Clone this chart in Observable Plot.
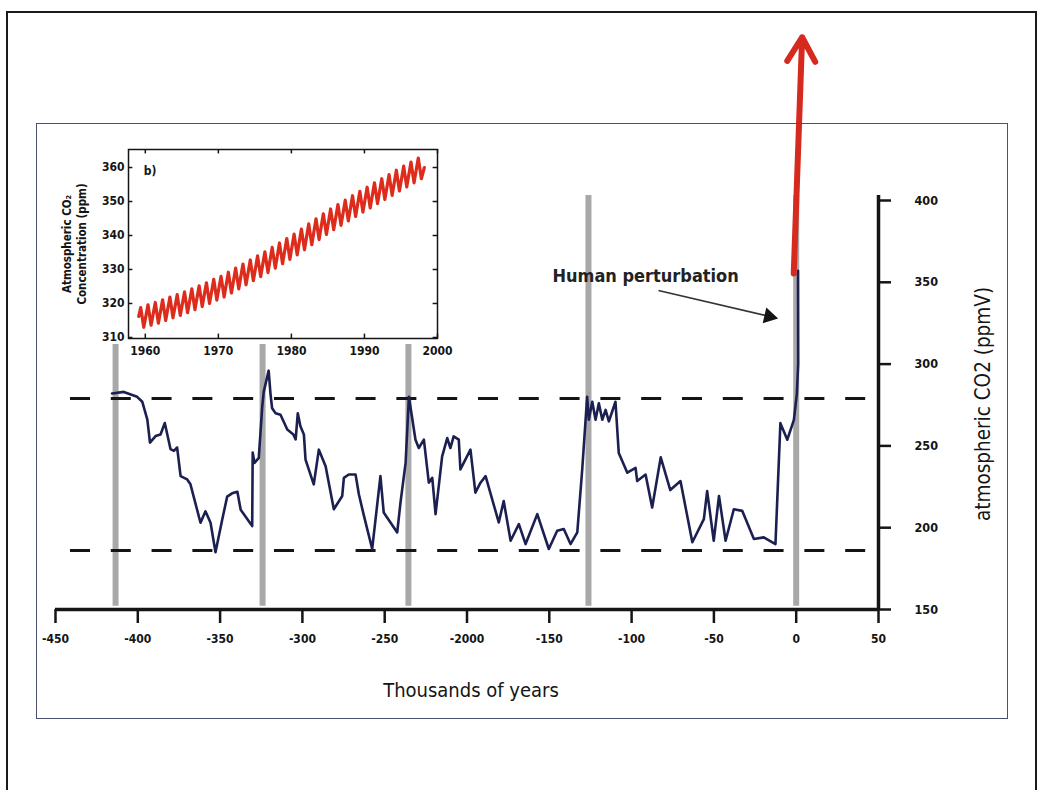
<!DOCTYPE html>
<html><head><meta charset="utf-8">
<script src="https://cdn.jsdelivr.net/npm/d3@7"></script>
<script src="https://cdn.jsdelivr.net/npm/@observablehq/plot@0.6"></script>
<style>
body{margin:0;background:#fff;width:1041px;height:790px;overflow:hidden;position:relative}
#main{position:absolute;left:0;top:0}
#inset{position:absolute;left:55px;top:140px}
.outer{position:absolute;left:6px;top:11px;width:1031px;height:800px;border:2px solid #1a1a1a;box-sizing:border-box}
.frame{position:absolute;left:36px;top:123px;width:972px;height:596px;border:1.5px solid #4a5070;box-sizing:border-box}
</style></head><body>
<div id="main"></div><div id="inset"></div><div class="outer"></div><div class="frame"></div>
<script>
// ---------- Vostok ice-core CO2 (thousands of years, ppmV) ----------
const vostokAge = [-415.6,-408.5,-400.4,-397.3,-394.2,-392.6,-389.2,-386.2,-383.6,-380.1,-378.1,-376.1,-374.0,-370.0,-368.0,-361.9,-358.9,-355.8,-352.8,-348.7,-345.7,-342.7,-339.5,-337.5,-330.5,-330.2,-329.1,-326.5,-324.4,-323.5,-320.5,-319.4,-318.4,-316.3,-313.3,-309.2,-305.5,-304.1,-302.8,-301.2,-299.1,-298.1,-293.1,-290.0,-285.9,-280.9,-275.8,-274.8,-271.8,-267.7,-265.7,-262.6,-257.6,-252.6,-250.6,-242.4,-240.4,-237.3,-235.3,-231.3,-229.3,-226.2,-223.2,-221.1,-219.1,-215.1,-212.0,-210.1,-208.1,-205.0,-204.0,-197.9,-194.9,-191.8,-188.7,-180.7,-177.7,-173.5,-168.5,-164.4,-157.3,-150.3,-145.2,-141.2,-137.1,-133.0,-130.0,-127.0,-126.0,-123.9,-121.9,-119.9,-117.8,-115.8,-113.8,-109.8,-107.8,-102.6,-97.6,-96.6,-91.5,-87.5,-82.3,-76.5,-70.3,-63.1,-56.1,-54.1,-50.1,-46.9,-42.9,-37.9,-32.8,-25.7,-19.7,-12.6,-9.6,-5.4,-1.4,0.4,1.2,1.1];
const vostokCO2 = [282,283,280,277,266,252,256,257,264,248,247,249,231.5,229.5,226.5,203,210,203,185,205,219,221,222,211,201,246,239.6,242.7,274,283,296,282,273,270,269,260,257,254,270,262,257,241.6,226.5,247.7,237.6,211.3,219.4,230.5,232.5,232.5,220.4,207.2,187,231.5,209.3,197.1,215.4,239.6,280,253.8,248.7,253.8,227.5,230.5,208.3,243.6,254.8,248.7,255.8,253.8,235.6,247.7,221.4,227.5,231.5,203.2,216.3,192,202.2,190,208.3,187,198.1,199.2,190,197.1,235.6,280,266,277,266,276,266,272,265,277,245.7,233.6,236.6,228.5,232.5,212.3,243,223,228.5,191.1,205.2,222.4,192,219.4,192,211.3,210.3,193.1,194.1,190,263.9,253.8,265.9,282,300,357];

// interglacial markers (grey bars): age and top value
const barAge = [-413.5, -324.2, -235.6, -126.2, 0];
const barTop = [312, 312, 312, 403, 403];

// reference levels (dashed)
const refLevels = [279, 186];

// x ticks and their printed labels (the original prints "-2000")
const xTicks = [-450,-400,-350,-300,-250,-200,-150,-100,-50,0,50];
const xTickLabels = ["-450","-400","-350","-300","-250","-2000","-150","-100","-50","0","50"];
const yTicks = [150,200,250,300,350,400];

// human perturbation arrow (red) and annotation arrow
const redArrow = [{x1:-1.5, y1:355.4, x2:3.6, y2:499.8}];
const noteArrow = [{x1:-83.7, y1:345, x2:-12, y2:328.2}];
const noteHead = [{x:-16.5, y:329.2}];
const noteText = [{x:-91.5, y:354, text:"Human perturbation"}];

// ---------- Inset: Mauna Loa CO2 (year, ppm) ----------
const insetYear = [1959.1,1959.37,1959.79,1960.37,1960.79,1961.37,1961.79,1962.37,1962.79,1963.37,1963.79,1964.37,1964.79,1965.37,1965.79,1966.37,1966.79,1967.37,1967.79,1968.37,1968.79,1969.37,1969.79,1970.37,1970.79,1971.37,1971.79,1972.37,1972.79,1973.37,1973.79,1974.37,1974.79,1975.37,1975.79,1976.37,1976.79,1977.37,1977.79,1978.37,1978.79,1979.37,1979.79,1980.37,1980.79,1981.37,1981.79,1982.37,1982.79,1983.37,1983.79,1984.37,1984.79,1985.37,1985.79,1986.37,1986.79,1987.37,1987.79,1988.37,1988.79,1989.37,1989.79,1990.37,1990.79,1991.37,1991.79,1992.37,1992.79,1993.37,1993.79,1994.37,1994.79,1995.37,1995.79,1996.37,1996.79,1997.37,1997.79,1998.2];
const insetCO2 = [316.2,318.8,313.0,319.6,313.6,320.3,314.2,321.1,315.0,321.9,315.8,322.6,316.5,323.4,317.3,324.3,318.2,325.2,319.1,326.1,320.0,327.1,321.0,328.0,321.9,329.2,323.1,330.4,324.3,331.6,325.5,332.8,326.7,334.0,327.9,335.2,329.1,336.5,330.4,337.8,331.7,339.1,333.0,340.4,334.3,341.9,335.8,343.4,337.3,344.9,338.8,346.4,340.3,347.8,341.7,349.1,343.0,350.4,344.3,351.7,345.6,353.0,346.9,354.2,348.1,355.5,349.4,356.7,350.6,357.9,351.8,359.2,353.1,360.4,354.3,361.6,355.5,362.8,356.7,360.0];
const insetXTicks = [1960,1970,1980,1990,2000];
const insetYTicks = [310,320,330,340,350,360];

const FONT = '"DejaVu Sans Condensed","Liberation Sans Narrow",sans-serif';
const INK = "#151515";

const vostok = vostokAge.map((a,i)=>({age:a, co2:vostokCO2[i]}));
const bars = barAge.map((a,i)=>({age:a, top:barTop[i]}));
const xLabel = new Map(xTicks.map((t,i)=>[t, xTickLabels[i]]));

const main = Plot.plot({
  width:1041, height:790,
  marginLeft:55, marginRight:163, marginTop:200, marginBottom:181,
  x:{domain:[-450,50]},
  y:{domain:[150,400]},
  style:{background:"white", fontFamily:FONT, color:INK},
  marks:[
    Plot.ruleX(bars, {x:"age", y1:152, y2:"top", stroke:"#a8a8a8", strokeWidth:6}),
    Plot.ruleY(refLevels, {x1:-440.9, x2:47, stroke:INK, strokeWidth:3, strokeDasharray:"20,20.8"}),
    Plot.line(vostok, {x:"age", y:"co2", stroke:"#1c2050", strokeWidth:2.6, strokeLinejoin:"round"}),
    Plot.arrow(redArrow, {x1:"x1", y1:"y1", x2:"x2", y2:"y2", stroke:"#d62a1e", strokeWidth:6, headLength:7, headAngle:60}),
    Plot.link(noteArrow, {x1:"x1", y1:"y1", x2:"x2", y2:"y2", stroke:"#333", strokeWidth:1.6}),
    Plot.dot(noteHead, {x:"x", y:"y", symbol:"triangle", r:6, fill:INK, rotate:103}),
    Plot.text(noteText, {x:"x", y:"y", text:"text", fontSize:18, fontWeight:"bold", fill:"#222"}),
    Plot.ruleY([150], {x1:-450, x2:50, stroke:INK, strokeWidth:3.5}),
    Plot.ruleX([50], {y1:150, y2:403, stroke:INK, strokeWidth:3.5}),
    Plot.axisX({ticks:xTicks, tickFormat:d=>xLabel.get(d), tickSize:14, tickPadding:11, strokeWidth:2.5, fontSize:12, fontWeight:"bold", label:null, stroke:INK}),
    Plot.axisY({anchor:"right", ticks:yTicks, tickFormat:d=>String(d), tickSize:12, tickPadding:24, strokeWidth:2.5, fontSize:12.5, fontWeight:"bold", label:null, stroke:INK}),
    Plot.text(["Thousands of years"], {frameAnchor:"bottom", textAnchor:"middle", dy:87, dx:4, fontSize:20, fill:INK}),
    Plot.text(["atmospheric CO2 (ppmV)"], {frameAnchor:"right", textAnchor:"middle", rotate:-90, dx:105, dy:-1, fontSize:20.5, fill:INK})
  ]
});
document.getElementById("main").appendChild(main);

const inset = insetYear.map((t,i)=>({t, v:insetCO2[i]}));
const insetPlot = Plot.plot({
  width:420, height:230,
  marginLeft:73, marginRight:38, marginTop:9, marginBottom:32,
  x:{domain:[1957.7,2000]},
  y:{domain:[309.7,365.3]},
  style:{background:"none", fontFamily:FONT, color:INK},
  marks:[
    Plot.line(inset, {x:"t", y:"v", stroke:"#dd2b1c", strokeWidth:3.2, strokeLinejoin:"round"}),
    Plot.ruleX(insetXTicks, {y1:309.7, y2:311.0, stroke:INK, strokeWidth:1.5}),
    Plot.ruleX(insetXTicks, {y1:364.0, y2:365.3, stroke:INK, strokeWidth:1.5}),
    Plot.ruleY(insetYTicks, {x1:1957.7, x2:1958.3, stroke:INK, strokeWidth:1.5}),
    Plot.ruleY(insetYTicks, {x1:1999.4, x2:2000, stroke:INK, strokeWidth:1.5}),
    Plot.frame({stroke:INK, strokeWidth:1.5}),
    Plot.axisX({ticks:insetXTicks, tickFormat:d=>String(d), tickSize:0, tickPadding:8, fontSize:12, fontWeight:"bold", label:null}),
    Plot.axisY({ticks:insetYTicks, tickFormat:d=>String(d), tickSize:0, tickPadding:4, fontSize:12, fontWeight:"bold", label:null}),
    Plot.text(["b)"], {x:1959.8, y:358.8, textAnchor:"start", fontSize:12, fontWeight:"bold", fill:INK}),
    Plot.text(["Atmospheric CO\u2082\nConcentration (ppm)"], {frameAnchor:"left", textAnchor:"middle", rotate:-90, dx:-55, fontSize:11.5, fontWeight:"bold", lineHeight:1.35, fill:INK})
  ]
});
document.getElementById("inset").appendChild(insetPlot);
</script>
</body></html>
